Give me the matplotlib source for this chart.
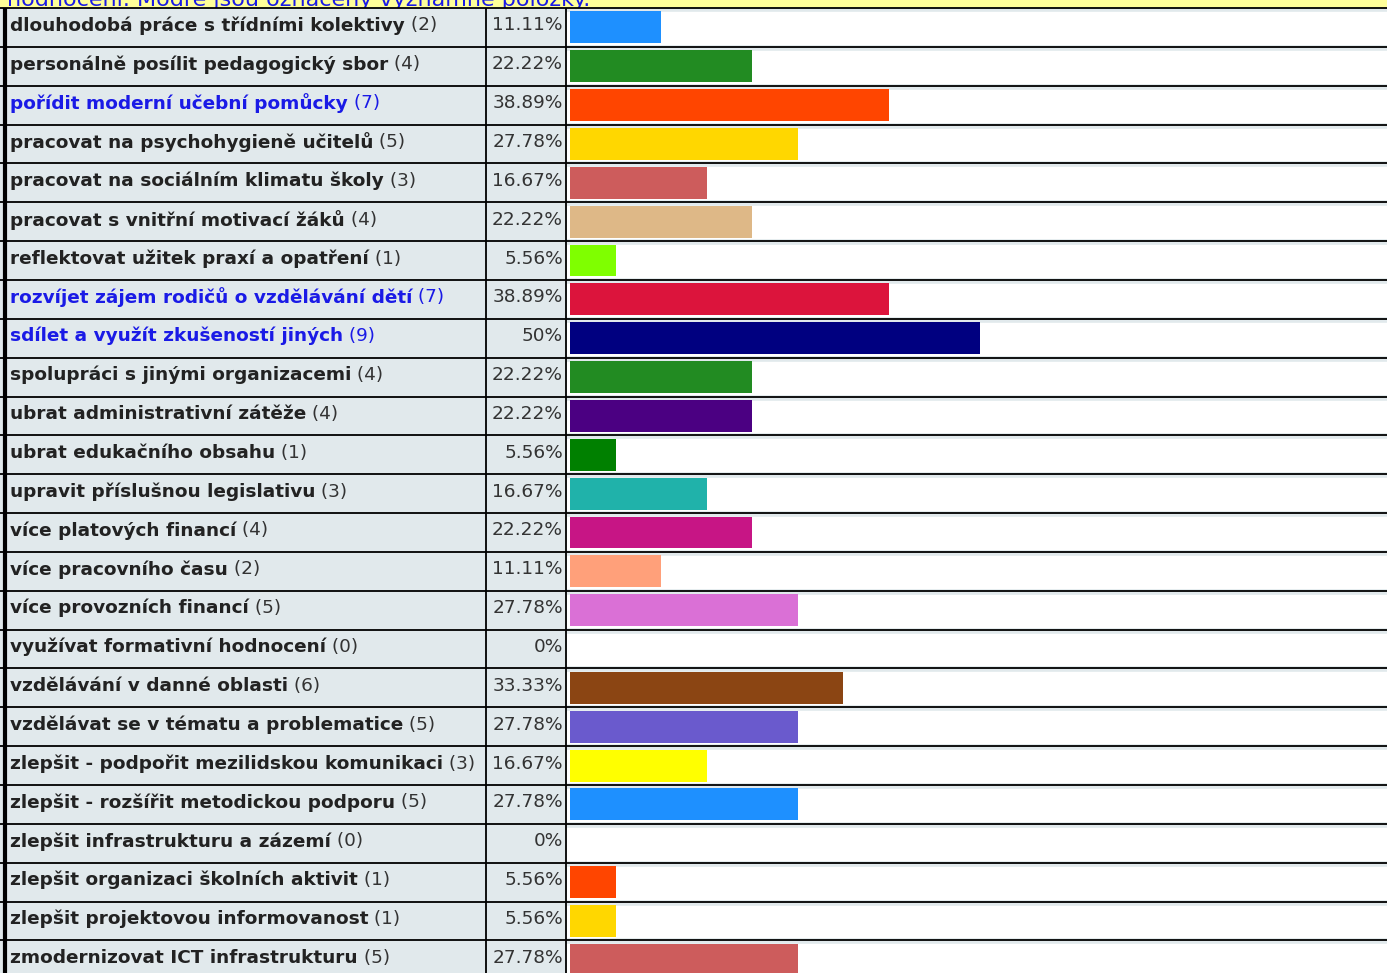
import matplotlib
matplotlib.use("Agg")
import matplotlib.pyplot as plt
import matplotlib.patches as mpatches

plt.rcParams["font.family"] = ["DejaVu Sans"]

labels = [
    "dlouhodobá práce s třídními kolektivy",
    "personálně posílit pedagogický sbor",
    "pořídit moderní učební pomůcky",
    "pracovat na psychohygieně učitelů",
    "pracovat na sociálním klimatu školy",
    "pracovat s vnitřní motivací žáků",
    "reflektovat užitek praxí a opatření",
    "rozvíjet zájem rodičů o vzdělávání dětí",
    "sdílet a využít zkušeností jiných",
    "spolupráci s jinými organizacemi",
    "ubrat administrativní zátěže",
    "ubrat edukačního obsahu",
    "upravit příslušnou legislativu",
    "více platových financí",
    "více pracovního času",
    "více provozních financí",
    "využívat formativní hodnocení",
    "vzdělávání v danné oblasti",
    "vzdělávat se v tématu a problematice",
    "zlepšit - podpořit mezilidskou komunikaci",
    "zlepšit - rozšířit metodickou podporu",
    "zlepšit infrastrukturu a zázemí",
    "zlepšit organizaci školních aktivit",
    "zlepšit projektovou informovanost",
    "zmodernizovat ICT infrastrukturu",
]
counts = [2, 4, 7, 5, 3, 4, 1, 7, 9, 4, 4, 1, 3, 4, 2, 5, 0, 6, 5, 3, 5, 0, 1, 1, 5]
percents = [11.11, 22.22, 38.89, 27.78, 16.67, 22.22, 5.56, 38.89, 50, 22.22,
            22.22, 5.56, 16.67, 22.22, 11.11, 27.78, 0, 33.33, 27.78, 16.67,
            27.78, 0, 5.56, 5.56, 27.78]
highlight = [2, 7, 8]
colors = ["#1E90FF", "#228B22", "#FF4500", "#FFD700", "#CD5C5C", "#DEB887",
          "#7FFF00", "#DC143C", "#000080", "#228B22", "#4B0082", "#008000",
          "#20B2AA", "#C71585", "#FFA07A", "#DA70D6", "#FFFFFF", "#8B4513",
          "#6A5ACD", "#FFFF00", "#1E90FF", "#FFFFFF", "#FF4500", "#FFD700",
          "#CD5C5C"]
header_text = "hodnocení. Modře jsou označeny významné položky."

W, H = 1387, 973
ROW0, RH = 8.0, 38.85
COL1, COL2, BAR_X0, BAR_X100 = 486, 566, 570, 1390
GREY = "#e1e9ec"
BLUE = "#1a1ae6"
FS = 13.3

fig = plt.figure(figsize=(W / 100, H / 100), dpi=100)
ax = fig.add_axes([0, 0, 1, 1])
ax.set_xlim(0, W)
ax.set_ylim(H, 0)
ax.axis("off")

# header strip (cut off at top of the screenshot)
ax.add_patch(mpatches.Rectangle((0, 0), W, ROW0, color="#ffff99", zorder=0))
ax.text(7, 6, header_text, color=BLUE, fontsize=16,
        ha="left", va="baseline", zorder=1)

n = len(labels)
ax.add_patch(mpatches.Rectangle((0, ROW0), W, H - ROW0, color=GREY, zorder=2))
for i in range(n):
    top = ROW0 + RH * i
    ax.add_patch(mpatches.Rectangle((COL2 + 1, top + 4), W - COL2, RH - 7,
                                    color="white", zorder=2))
    ax.axhline(top, color="black", lw=1.3, zorder=3)
    cy = top + RH / 2 - 2
    col = BLUE if i in highlight else "#222222"
    t = ax.text(10, cy, labels[i], fontsize=FS, fontweight="bold", color=col,
                ha="left", va="center", zorder=4)
    ax.annotate(f" ({counts[i]})", xy=(1, 0.5), xycoords=t, fontsize=FS,
                color=BLUE if i in highlight else "#333333",
                ha="left", va="center", zorder=4)
    ax.text(COL2 - 3, cy, f"{percents[i]:g}%", fontsize=FS, color="#333333",
            ha="right", va="center", zorder=4)

ax.vlines(4.5, ROW0, H, color="black", lw=3, zorder=3)
ax.vlines([COL1, COL2], ROW0, H, color="black", lw=1.3, zorder=3)

# bar axes: x in percent, y in row index
bax = fig.add_axes([BAR_X0 / W, 1 - (ROW0 + RH * n) / H,
                    (BAR_X100 - BAR_X0) / W, RH * n / H])
bax.set_xlim(0, 100)
bax.set_ylim(n - 0.5, -0.5)
bax.patch.set_alpha(0)
bax.axis("off")
bax.barh(range(n), percents, height=0.82, color=colors, left=0, zorder=5)

fig.savefig("out.png", dpi=100)
